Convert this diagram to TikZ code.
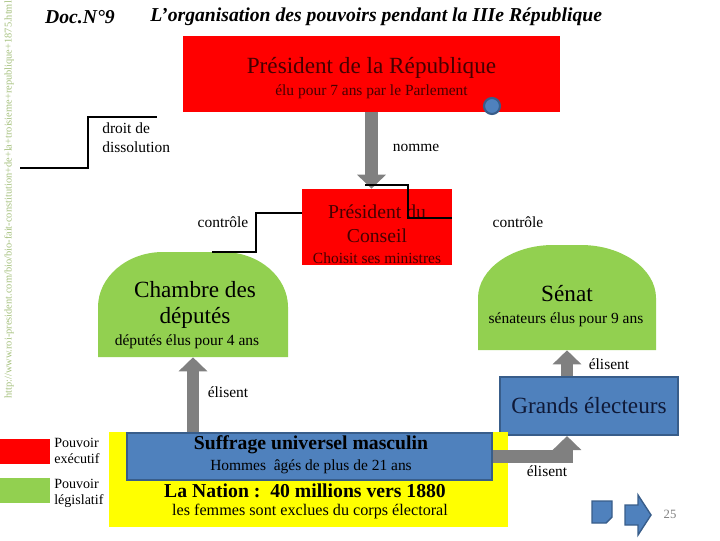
\documentclass[tikz,border=0pt]{standalone}
\usepackage{fontspec}
\setmainfont{Liberation Serif}
\usetikzlibrary{arrows.meta}
\definecolor{execred}{RGB}{255,0,0}
\definecolor{legisgreen}{RGB}{146,208,80}
\definecolor{boxblue}{RGB}{79,129,189}
\definecolor{edgeblue}{RGB}{56,93,138}
\definecolor{nationyellow}{RGB}{255,255,0}
\definecolor{arrowgray}{RGB}{128,128,128}
\definecolor{urlgreen}{RGB}{165,192,125}
\definecolor{darkred}{RGB}{70,0,0}
\definecolor{navyblue}{RGB}{15,25,55}
\begin{document}
\begin{tikzpicture}[x=0.025cm,y=-0.025cm,
  every node/.style={font=\fontsize{11}{14}\selectfont,inner sep=0pt},
  big/.style={font=\fontsize{16.5}{20}\selectfont},
  mid/.style={font=\fontsize{14}{17}\selectfont},
  bigarrow/.style={arrowgray,line width=9pt,-{Triangle[width=20pt,length=10pt]}},
  link/.style={black,line width=0.8pt}]
  \useasboundingbox (0,0) rectangle (720,540);
  % titre
  \node[font=\fontsize{14}{16}\selectfont\bfseries\itshape] (doc) at (80,17) {Doc.N°9};
  \node[font=\fontsize{14}{16}\selectfont\bfseries\itshape,anchor=west] (titre) at (150,17) {L’organisation des pouvoirs pendant la IIIe République};
  \node[rotate=90,text=urlgreen,font=\fontsize{7.4}{8}\selectfont] (url) at (9,200) {http://www.roi-president.com/bio/bio-fait-constitution+de+la+troisieme+republique+1875.html};
  % executif
  \node[fill=execred,minimum width=9.425cm,minimum height=1.9cm] (pres) at (371.5,74) {};
  \node[big,text=darkred] (presT) at (371.5,68) {Président de la République};
  \node[text=darkred] (presS) at (371.5,92) {élu pour 7 ans par le Parlement};
  \node[circle,fill=boxblue,draw=edgeblue,line width=1.5pt,minimum size=0.4cm] (bouton) at (492,106) {};
  \node[fill=execred,minimum width=3.75cm,minimum height=1.9cm] (conseil) at (377,227) {};
  \node[mid,text=darkred] (conseilT) at (377,212) {Président du};
  \node[mid,text=darkred] (conseilU) at (377,236) {Conseil};
  \node[text=darkred] (conseilS) at (377,258) {Choisit ses ministres};
  \draw[bigarrow] (pres.south) -- (pres.south |- conseil.north);
  \node (nomme) at (416,148) {nomme};
  % dissolution
  \coordinate (dissA) at (20,168);
  \coordinate (dissB) at (157,117);
  \draw[link] (dissA) -- (88,168) |- (dissB);
  \node[anchor=north west,align=left] (dissT) at (102,122) {droit de\\dissolution};
  % legislatif
  \node[minimum width=4.75cm,minimum height=2.625cm] (chambre) at (193,304.5) {};
  \fill[legisgreen] (98,357) -- (98,307) .. controls (98,277) and (127,252) .. (163,252) -- (223,252) .. controls (259,252) and (288,277) .. (288,307) -- (288,357) -- cycle;
  \node[big] (chambreT) at (195,290) {Chambre des};
  \node[big] (chambreU) at (195,318) {députés};
  \node (chambreS) at (187,342) {députés élus pour 4 ans};
  \node[minimum width=4.45cm,minimum height=2.625cm] (senat) at (567,297.5) {};
  \fill[legisgreen] (478,350) -- (478,298) .. controls (478,269) and (512,245) .. (553,245) -- (581,245) .. controls (622,245) and (656,269) .. (656,298) -- (656,350) -- cycle;
  \node[big] (senatT) at (567,294) {Sénat};
  \node (senatS) at (566,320) {sénateurs élus pour 9 ans};
  % controle
  \coordinate (ctrlA) at (212,252);
  \coordinate (ctrlB) at (256,213);
  \draw[link] (ctrlA) -| (ctrlB) -- (conseil.west |- ctrlB);
  \node (ctrlT) at (223,222) {contrôle};
  \coordinate (ctrlC) at (365,185);
  \coordinate (ctrlD) at (408,218);
  \draw[link] (ctrlC) -| (ctrlD) -- (conseil.east |- ctrlD);
  \node (ctrlU) at (518,222) {contrôle};
  % electeurs
  \node[big,fill=boxblue,draw=edgeblue,line width=1.5pt,text=navyblue,minimum width=4.45cm,minimum height=1.45cm] (grands) at (589,406) {Grands électeurs};
  \node[fill=nationyellow,minimum width=9.975cm,minimum height=2.375cm] (nation) at (308.5,479.5) {};
  \node[fill=boxblue,draw=edgeblue,line width=1.5pt,minimum width=9.125cm,minimum height=1.175cm] (suffrage) at (309.5,456.5) {};
  \node[font=\fontsize{14}{17}\selectfont\bfseries] (suffrageT) at (311,445) {Suffrage universel masculin};
  \node (suffrageS) at (311,467) {Hommes\ \ âgés de plus de 21 ans};
  \node[font=\fontsize{14}{17}\selectfont\bfseries] (nationT) at (305,491) {La Nation :\ \ 40 millions vers 1880};
  \node[font=\fontsize{11.5}{14}\selectfont] (nationS) at (310,512) {les femmes sont exclues du corps électoral};
  \draw[bigarrow] (suffrage.north -| chambre.south) -- (chambre.south);
  \node (elisA) at (228,392) {élisent};
  \draw[bigarrow] (grands.north -| senat.south) -- (senat.south);
  \node (elisB) at (609,364) {élisent};
  \draw[bigarrow] (suffrage.east) -| (grands.south -| senat.south);
  \node (elisC) at (547,471) {élisent};
  % legende
  \node[fill=execred,minimum width=1.25cm,minimum height=0.625cm] (legExec) at (25,451) {};
  \node[anchor=west,align=left,font=\fontsize{10}{11.5}\selectfont] (legExecT) at (54,451) {Pouvoir\\exécutif};
  \node[fill=legisgreen,minimum width=1.25cm,minimum height=0.625cm] (legLegis) at (25,490.5) {};
  \node[anchor=west,align=left,font=\fontsize{10}{11.5}\selectfont] (legLegisT) at (54,493) {Pouvoir\\législatif};
  % navigation
  \filldraw[fill=boxblue,draw=edgeblue,line width=1pt] (592,501) -- (612,501) -- (612,517) -- (606,523) -- (592,523) -- cycle;
  \filldraw[fill=boxblue,draw=edgeblue,line width=1pt] (625,505) -- (638,505) -- (638,495) -- (651,515) -- (638,535) -- (638,525) -- (625,525) -- cycle;
  \node[text=gray,font=\fontsize{9}{10}\selectfont] (page) at (670,514) {25};
\end{tikzpicture}
\end{document}
